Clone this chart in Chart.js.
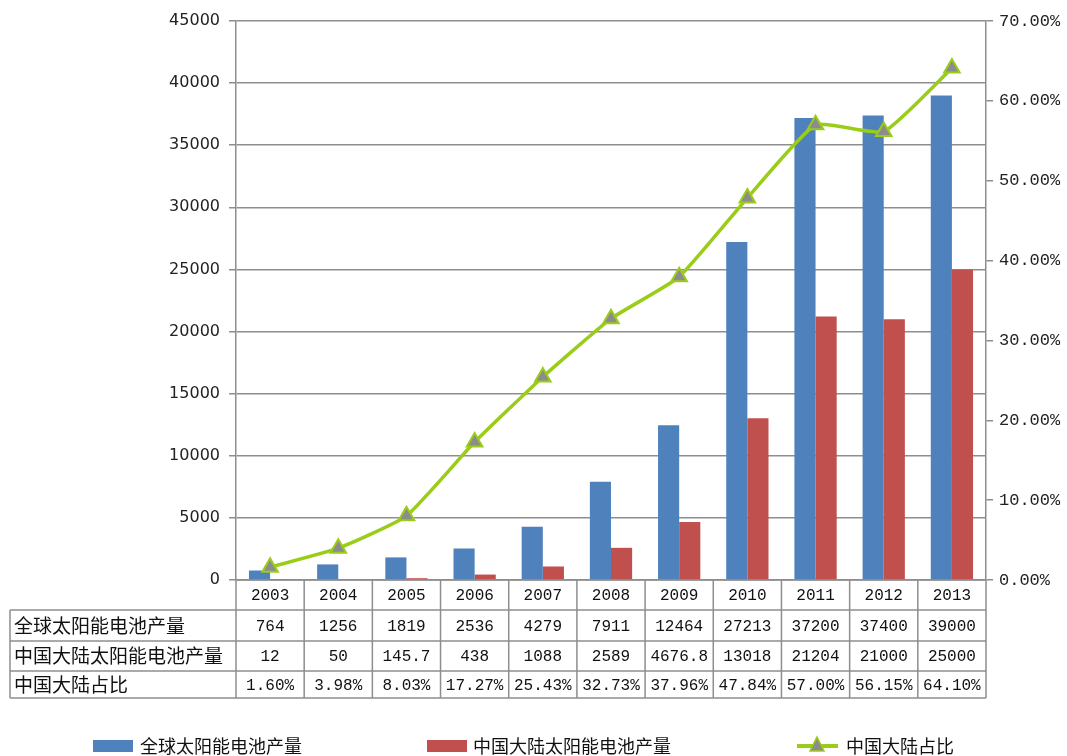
<!DOCTYPE html>
<html>
<head>
<meta charset="utf-8">
<script src="https://cdn.jsdelivr.net/npm/chart.js@4.4.1/dist/chart.umd.min.js"></script>
<style>
  html, body { margin: 0; padding: 0; background: #fff; }
  #wrap { width: 1067px; height: 756px; position: relative; }
</style>
</head>
<body>
<div id="wrap"><canvas id="solarChart" width="1067" height="756"></canvas></div>
<script>
// data
const years = ['2003', '2004', '2005', '2006', '2007', '2008', '2009', '2010', '2011', '2012', '2013'];
const globalOutput = [764, 1256, 1819, 2536, 4279, 7911, 12464, 27213, 37200, 37400, 39000];
const chinaOutput = [12, 50, 145.7, 438, 1088, 2589, 4676.8, 13018, 21204, 21000, 25000];
const chinaShare = [1.60, 3.98, 8.03, 17.27, 25.43, 32.73, 37.96, 47.84, 57.00, 56.15, 64.10];
const seriesNames = ['全球太阳能电池产量', '中国大陆太阳能电池产量', '中国大陆占比'];

const BLUE = '#4F81BD';
const RED = '#C0504D';
const GREEN = '#9ACD1A';
const GREY = '#8C8C8C';
const LINE_GREY = '#8E8E8E';
const CJK = '"Noto Sans CJK SC", sans-serif';
const MONO = '"Liberation Mono", monospace';

function fmtShare(v) { return v.toFixed(2) + '%'; }

// table under the plot + custom legend
const tablePlugin = {
  id: 'data_table',
  afterDraw: (chart) => {
    const ctx = chart.ctx;
    const xs = chart.scales.x;
    const area = chart.chartArea;
    const step = xs.getPixelForValue(1) - xs.getPixelForValue(0);
    const rows = [area.bottom, 610, 641, 671, 698];
    const headLeft = 10;

    ctx.save();
    ctx.strokeStyle = LINE_GREY;
    ctx.lineWidth = 1.5;
    ctx.beginPath();
    // horizontal lines
    ctx.moveTo(area.left, rows[0]); ctx.lineTo(area.right, rows[0]);
    for (let r = 1; r < rows.length; r++) {
      ctx.moveTo(headLeft, rows[r]); ctx.lineTo(area.right, rows[r]);
    }
    // vertical lines
    ctx.moveTo(headLeft, rows[1]); ctx.lineTo(headLeft, rows[4]);
    for (let i = 0; i <= years.length; i++) {
      const x = xs.getPixelForValue(0) - step / 2 + i * step;
      ctx.moveTo(x, rows[0]); ctx.lineTo(x, rows[4]);
    }
    ctx.stroke();

    // header column
    ctx.fillStyle = '#111';
    ctx.textBaseline = 'middle';
    ctx.textAlign = 'left';
    ctx.font = '19px ' + CJK;
    for (let r = 0; r < 3; r++) {
      ctx.fillText(seriesNames[r], headLeft + 4, (rows[r + 1] + rows[r + 2]) / 2);
    }

    // values
    ctx.textAlign = 'center';
    ctx.font = '16px ' + MONO;
    const rowTexts = [
      years,
      globalOutput.map(String),
      chinaOutput.map(String),
      chinaShare.map(fmtShare)
    ];
    rowTexts.forEach((texts, r) => {
      const cy = (rows[r] + rows[r + 1]) / 2 + 1;
      texts.forEach((t, i) => {
        ctx.fillText(t, xs.getPixelForValue(i), cy);
      });
    });

    // legend
    const ly = 746;
    ctx.textAlign = 'left';
    ctx.font = '18px ' + CJK;
    ctx.fillStyle = BLUE;
    ctx.fillRect(93, ly - 6, 40, 12);
    ctx.fillStyle = RED;
    ctx.fillRect(427, ly - 6, 40, 12);
    ctx.strokeStyle = GREEN;
    ctx.lineWidth = 4;
    ctx.beginPath();
    ctx.moveTo(797, ly); ctx.lineTo(838, ly);
    ctx.stroke();
    ctx.fillStyle = GREY;
    ctx.strokeStyle = GREEN;
    ctx.lineWidth = 1.5;
    ctx.beginPath();
    ctx.moveTo(817, ly - 9); ctx.lineTo(824, ly + 5); ctx.lineTo(810, ly + 5); ctx.closePath();
    ctx.fill(); ctx.stroke();
    ctx.fillStyle = '#111';
    ctx.fillText(seriesNames[0], 140, ly);
    ctx.fillText(seriesNames[1], 473, ly);
    ctx.fillText(seriesNames[2], 846, ly);
    ctx.restore();
  }
};

const ctx = document.getElementById('solarChart').getContext('2d');
new Chart(ctx, {
  data: {
    labels: years,
    datasets: [
      {
        type: 'line',
        label: seriesNames[2],
        data: chinaShare,
        yAxisID: 'y1',
        borderColor: GREEN,
        borderWidth: 3.5,
        tension: 0.15,
        pointStyle: 'triangle',
        pointRadius: 9,
        pointBackgroundColor: GREY,
        pointBorderColor: GREEN,
        pointBorderWidth: 2,
        order: 0
      },
      {
        type: 'bar',
        label: seriesNames[0],
        data: globalOutput,
        yAxisID: 'y',
        backgroundColor: BLUE,
        barPercentage: 1.0,
        categoryPercentage: 0.62,
        order: 1
      },
      {
        type: 'bar',
        label: seriesNames[1],
        data: chinaOutput,
        yAxisID: 'y',
        backgroundColor: RED,
        barPercentage: 1.0,
        categoryPercentage: 0.62,
        order: 1
      }
    ]
  },
  options: {
    responsive: false,
    animation: false,
    layout: { padding: { left: 0, right: 0, top: 21, bottom: 176 } },
    plugins: {
      legend: { display: false },
      tooltip: { enabled: false }
    },
    scales: {
      x: { display: false, offset: true },
      y: {
        position: 'left',
        min: 0,
        max: 45000,
        afterFit: (scale) => { scale.width = 236; },
        ticks: {
          stepSize: 5000,
          color: '#222',
          font: { family: '"DejaVu Sans"', size: 16 },
          padding: 9,
          callback: (v) => String(v)
        },
        grid: { color: LINE_GREY, lineWidth: 1.5, tickLength: 7 },
        border: { color: LINE_GREY, width: 1.5 }
      },
      y1: {
        position: 'right',
        min: 0,
        max: 70,
        afterFit: (scale) => { scale.width = 81; },
        ticks: {
          stepSize: 10,
          color: '#222',
          font: { family: MONO, size: 17 },
          padding: 6,
          callback: (v) => fmtShare(v)
        },
        grid: { drawOnChartArea: false, color: LINE_GREY, lineWidth: 1.5, tickLength: 7 },
        border: { color: LINE_GREY, width: 1.5 }
      }
    }
  },
  plugins: [tablePlugin]
});
</script>
</body>
</html>
